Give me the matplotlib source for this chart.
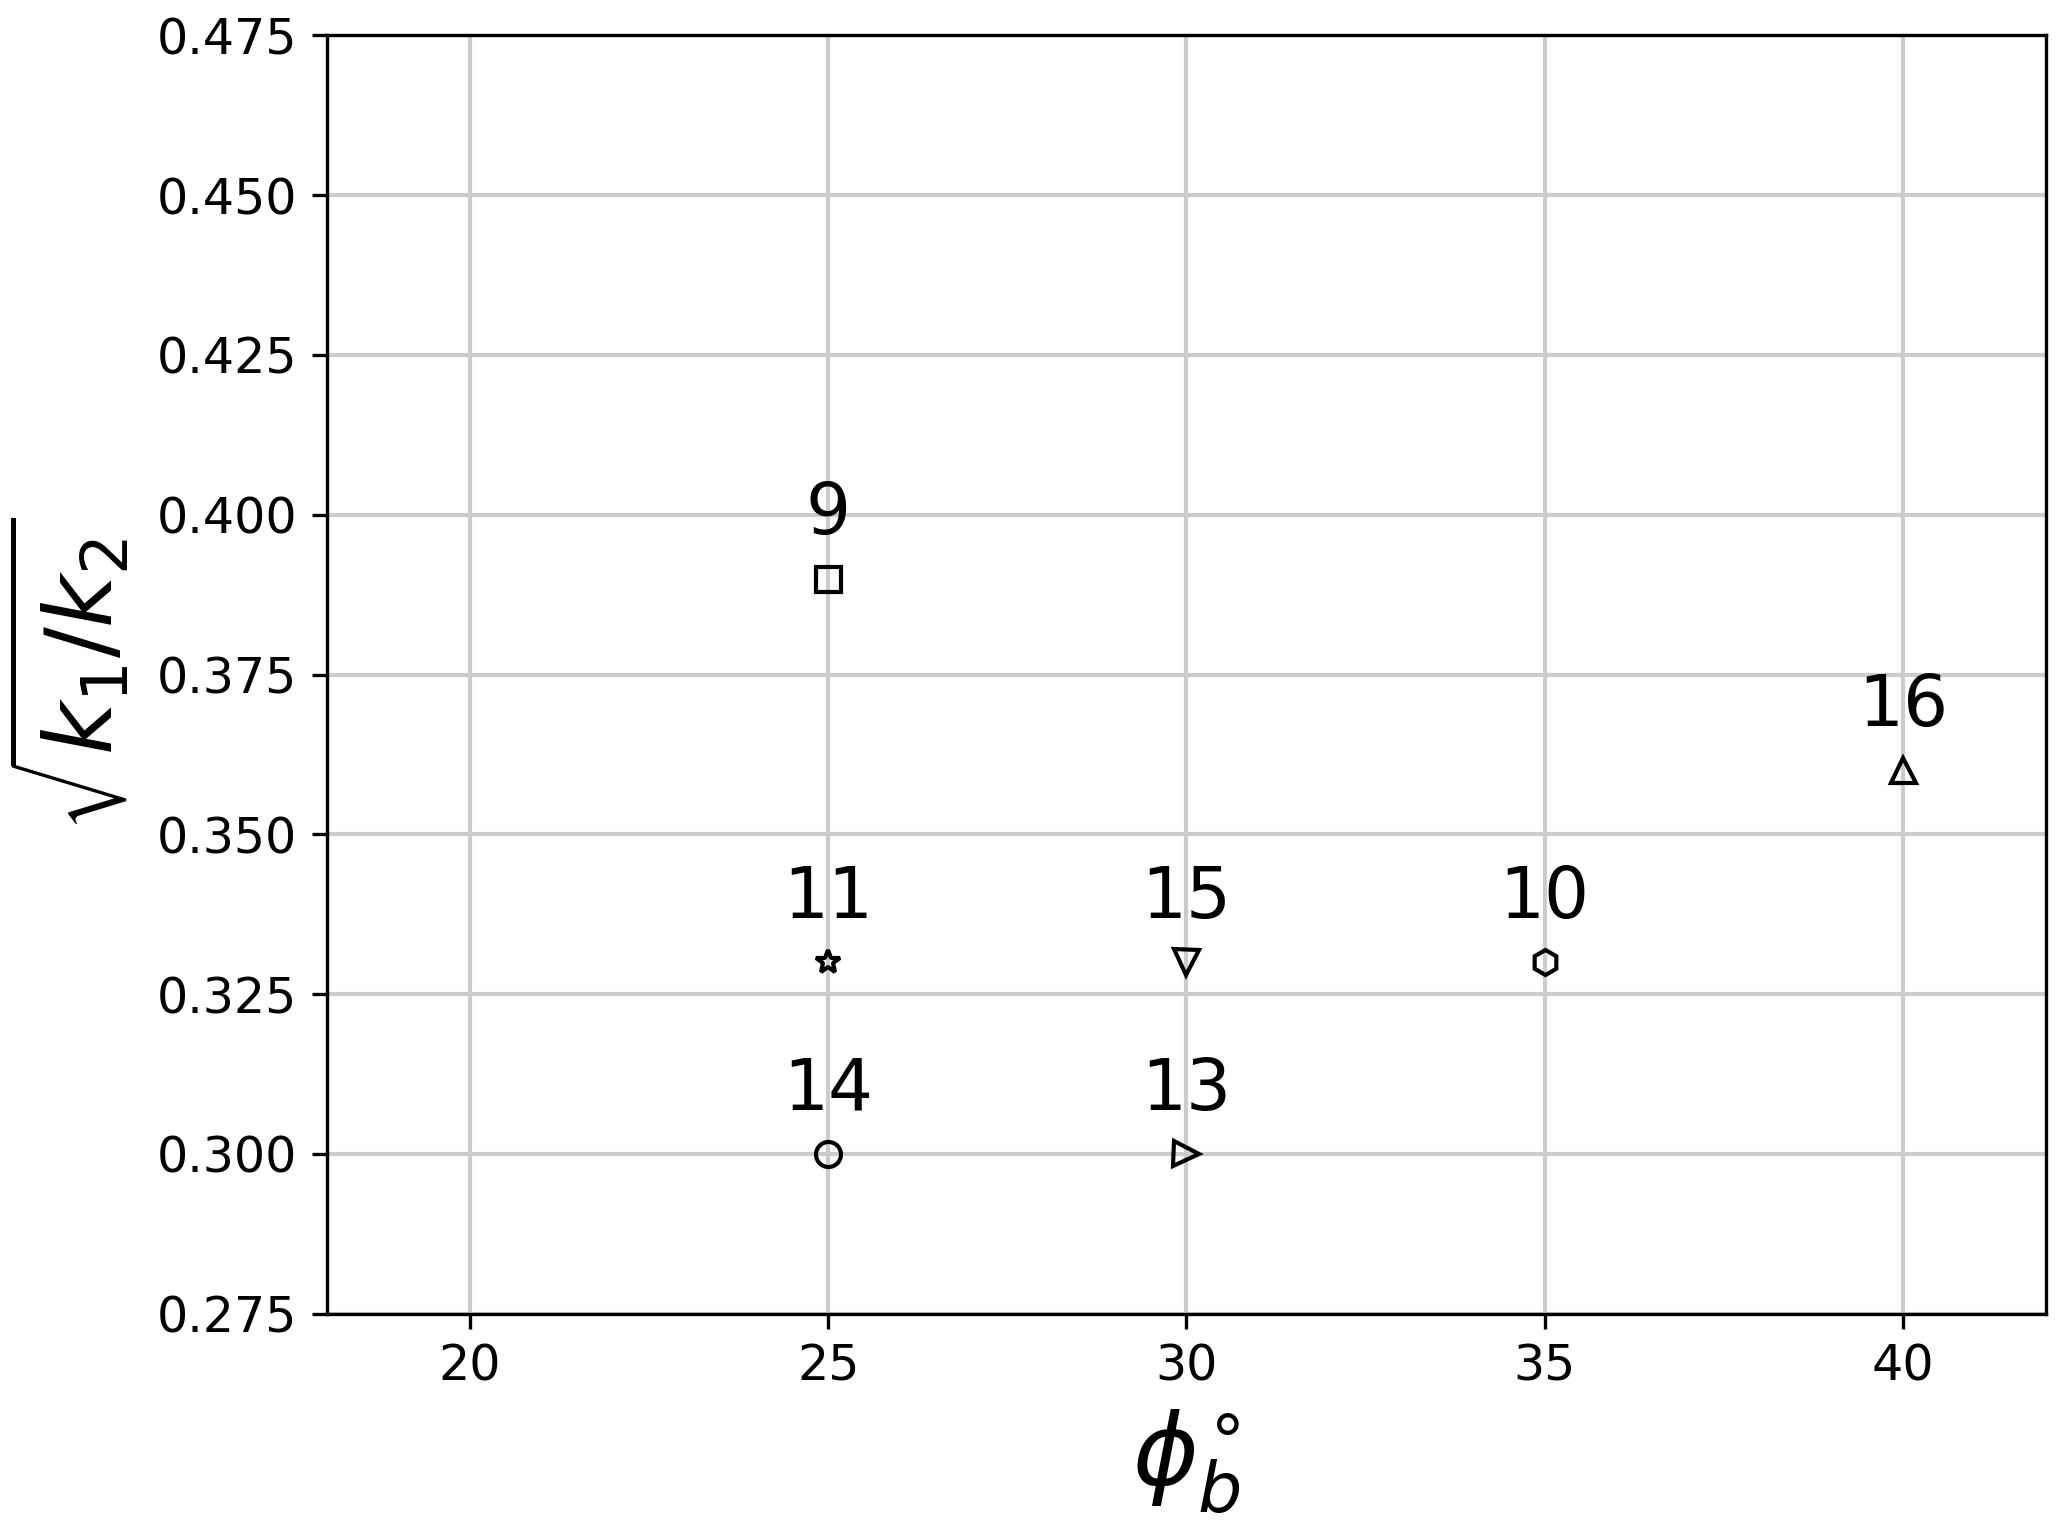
import numpy as np
import matplotlib.pyplot as plt

# data
phi_b = [25, 25, 30, 35, 40, 25, 30]
ratio = [0.39, 0.33, 0.33, 0.33, 0.36, 0.30, 0.30]
labels = ["9", "11", "15", "10", "16", "14", "13"]
markers = ["s", "*", "v", "h", "^", "o", ">"]

fig = plt.figure(figsize=(6.89, 5.11), dpi=300)
ax = fig.add_axes([0.158, 0.143, 0.832, 0.834])

for x, y, lab, m in zip(phi_b, ratio, labels, markers):
    ax.plot(x, y, marker=m, ms=6, mfc="none", mec="black", mew=1.0, ls="none", zorder=3)
    ax.text(x, y + 0.01, lab, ha="center", va="center", fontsize=17)

ax.set_xlim(18, 42)
ax.set_ylim(0.275, 0.475)
ax.set_xticks([20, 25, 30, 35, 40])
ax.set_yticks(np.arange(0.275, 0.4751, 0.025))
ax.yaxis.set_major_formatter(plt.FormatStrFormatter("%.3f"))
ax.tick_params(labelsize=11.8)
ax.grid(True, color="#cccccc", lw=1.0)
ax.set_axisbelow(True)

ax.set_xlabel(r"$\phi_b^{\circ}$", fontsize=24)
ax.set_ylabel(r"$\sqrt{k_1/k_2}$", fontsize=22, labelpad=6)

fig.savefig("out.png", dpi=300)
